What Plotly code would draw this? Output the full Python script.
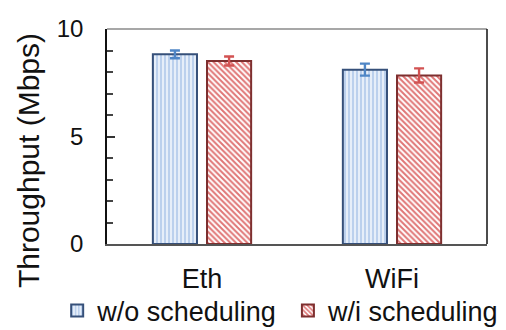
import plotly.graph_objects as go

# Throughput per link type, with and without scheduling
categories = ["Eth", "WiFi"]
wo_sched = [8.82, 8.11]
wo_err = [0.18, 0.28]
wi_sched = [8.51, 7.84]
wi_err = [0.21, 0.33]

FONT = "Liberation Sans, Arial, sans-serif"

fig = go.Figure()
fig.add_trace(go.Bar(
    x=categories, y=wo_sched, name="w/o scheduling", legend="legend",
    marker=dict(
        color="#DCE7F6",
        line=dict(color="#36507A", width=2),
        pattern=dict(shape="|", fgcolor="#A9C3E8", bgcolor="#E6EEF9",
                     size=4, solidity=0.35, fillmode="replace"),
    ),
    error_y=dict(type="data", array=wo_err, color="#4F86C6", thickness=2.4, width=5),
))
fig.add_trace(go.Bar(
    x=categories, y=wi_sched, name="w/i scheduling", legend="legend2",
    marker=dict(
        color="#F6D9D9",
        line=dict(color="#7E2F2F", width=2),
        pattern=dict(shape="\\", fgcolor="#E07676", bgcolor="#FFFFFF",
                     size=4, solidity=0.5, fillmode="replace"),
    ),
    error_y=dict(type="data", array=wi_err, color="#D25252", thickness=2.4, width=5),
))

legend_style = dict(orientation="h", yref="container", xref="container",
                    y=0.058, yanchor="middle", xanchor="left",
                    font=dict(size=27), itemwidth=30,
                    bgcolor="rgba(0,0,0,0)", borderwidth=0)

fig.update_layout(
    width=506, height=330,
    margin=dict(l=107, r=19, t=29, b=86, autoexpand=False),
    paper_bgcolor="white", plot_bgcolor="white",
    barmode="group", bargap=0.43, bargroupgap=0.185,
    font=dict(family=FONT, size=27, color="#111111"),
    showlegend=True,
    legend=dict(legend_style, x=0.113),
    legend2=dict(legend_style, x=0.569),
    shapes=[
        dict(type="line", xref="paper", yref="paper", x0=0, x1=1, y0=1, y1=1,
             line=dict(color="#8A8A8A", width=1.5)),
        dict(type="line", xref="paper", yref="paper", x0=1, x1=1, y0=0, y1=1,
             line=dict(color="#111111", width=1.5)),
    ],
    annotations=[
        dict(text="Throughput (Mbps)", textangle=-90, showarrow=False,
             xref="paper", yref="paper", x=-0.208, y=0.39,
             xanchor="center", yanchor="middle", font=dict(size=30)),
    ],
)
fig.update_xaxes(
    showline=True, linecolor="#555555", linewidth=1.5,
    ticks="", showgrid=False, ticklabelstandoff=10,
    tickfont=dict(size=27),
)
fig.update_yaxes(
    range=[0, 10], dtick=5, showgrid=False, zeroline=False,
    showline=True, linecolor="#111111", linewidth=1.5,
    ticks="inside", ticklen=8, tickwidth=1.5, tickcolor="#333333",
    minor=dict(dtick=1, ticks="inside", ticklen=6, tickwidth=1.5, tickcolor="#444444"),
    ticklabelstandoff=17,
    tickfont=dict(size=24),
)

fig.write_html("out.html")
